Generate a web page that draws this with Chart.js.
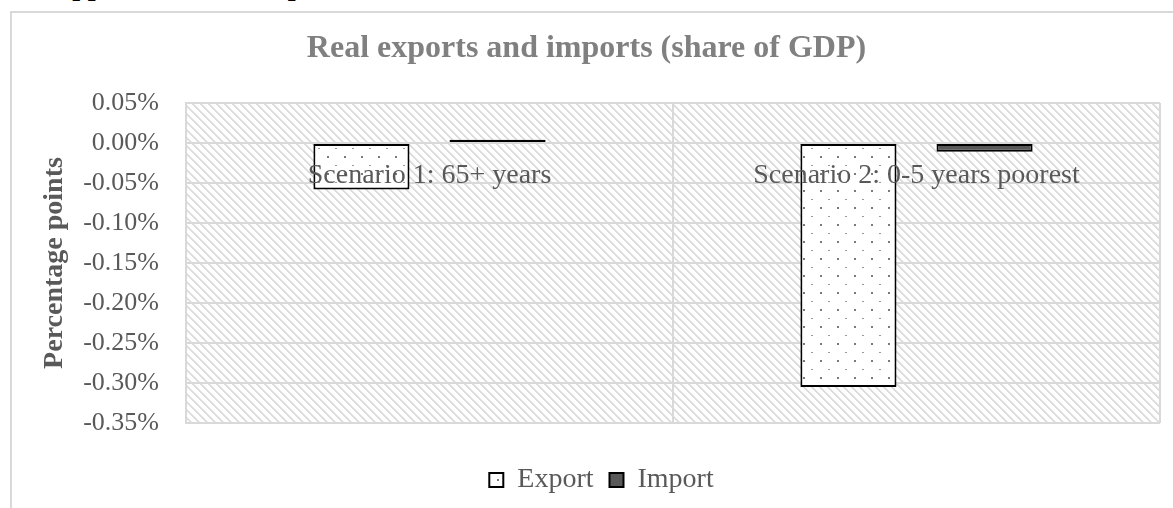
<!DOCTYPE html>
<html>
<head>
<meta charset="utf-8">
<script src="https://cdn.jsdelivr.net/npm/chart.js@4.4.1/dist/chart.umd.min.js"></script>
<style>
html,body{margin:0;padding:0;background:#fff;}
#wrap{position:relative;width:1173px;height:508px;overflow:hidden;background:#fff;}
#frame{position:absolute;left:10px;top:11px;width:1300px;height:600px;border-left:2px solid #d9d9d9;border-top:2px solid #d9d9d9;}
#head{position:absolute;left:0;top:0;width:1173px;height:4px;overflow:hidden;}
#head span{position:absolute;top:-28px;font:bold 28px "Liberation Serif";color:#000;line-height:1;white-space:nowrap;}
canvas{position:absolute;left:0;top:0;}
</style>
</head>
<body>
<div id="wrap">
  <div id="head"><span style="left:52px">Appendix</span><span style="left:255px">Exports</span></div>
  <div id="frame"></div>
  <canvas id="c" width="1173" height="508"></canvas>
</div>
<script>
// ---- data ----
const categories = ['Scenario 1: 65+ years', 'Scenario 2: 0-5 years poorest'];
const seriesNames = ['Export', 'Import'];
const exportValues = [-0.058, -0.305];
const importValues = [0.004, -0.011];
const yMin = -0.35;
const yMax = 0.05;
const yStep = 0.05;
const chartTitle = 'Real exports and imports (share of GDP)';
const yAxisTitle = 'Percentage points';

const F = '"Liberation Serif", "DejaVu Serif", serif';

// hatch pattern for plot area
function makeHatch() {
  const c = document.createElement('canvas');
  c.width = 8; c.height = 8;
  const g = c.getContext('2d');
  g.fillStyle = '#ffffff'; g.fillRect(0, 0, 8, 8);
  for (let y = 0; y < 8; y++) {
    for (let x = 0; x < 8; x++) {
      const d = ((x - y) % 8 + 8) % 8;
      if (d === 0 || d === 1) { g.fillStyle = '#dcdcdc'; g.fillRect(x, y, 1, 1); }
      else if (d === 2) { g.fillStyle = '#eeeeee'; g.fillRect(x, y, 1, 1); }
    }
  }
  return g.createPattern(c, 'repeat');
}
// dotted pattern for export bars
function makeDots() {
  const c = document.createElement('canvas');
  c.width = 17; c.height = 17;
  const g = c.getContext('2d');
  g.fillStyle = '#ffffff'; g.fillRect(0, 0, 17, 17);
  g.fillStyle = '#7a7a7a'; g.fillRect(4, 3, 2, 2);
  g.fillStyle = '#9a9a9a'; g.fillRect(12, 12, 2, 1);
  return g.createPattern(c, 'repeat');
}

const ctx = document.getElementById('c').getContext('2d');
const hatch = makeHatch();
const dots = makeDots();

const bgPlugin = {
  id: 'plotBg',
  afterLayout(chart) {
    // nudge legend to the right like the original
    const lg = chart.legend;
    if (lg) { lg.left += 15; lg.right += 15; }
  },
  beforeDraw(chart) {
    const a = chart.chartArea;
    const g = chart.ctx;
    g.save();
    g.fillStyle = hatch;
    g.fillRect(a.left, a.top, a.right - a.left, a.bottom - a.top);
    g.restore();
  }
};

new Chart(ctx, {
  type: 'bar',
  data: {
    labels: categories,
    datasets: [
      { label: seriesNames[0], data: exportValues, backgroundColor: dots, borderColor: '#000000', borderWidth: 2, borderSkipped: false, categoryPercentage: 0.559, barPercentage: 0.706 },
      { label: seriesNames[1], data: importValues, backgroundColor: '#595959', borderColor: '#000000', borderWidth: 2, borderSkipped: false, categoryPercentage: 0.559, barPercentage: 0.706 }
    ]
  },
  options: {
    responsive: false,
    animation: false,
    layout: { padding: { left: 0, right: 0, top: 0, bottom: 4 } },
    plugins: {
      title: {
        display: true, text: chartTitle, color: '#808080',
        font: { family: F, size: 32, weight: 'bold', lineHeight: 1.2 },
        padding: { top: 30, bottom: 34.6 }
      },
      legend: {
        position: 'bottom',
        title: { display: true, text: '', padding: 0, font: { size: 27, lineHeight: 1 } },
        labels: { boxWidth: 14, boxHeight: 14, padding: 16, color: '#595959', font: { family: F, size: 28 } }
      },
      tooltip: { enabled: false }
    },
    scales: {
      x: {
        position: { y: 0 },
        grid: { color: '#d9d9d9', lineWidth: 2, drawTicks: false, offset: true },
        border: { display: false },
        ticks: { z: 1, color: '#595959', font: { family: F, size: 28 }, padding: 16, maxRotation: 0, autoSkip: false }
      },
      y: {
        min: yMin, max: yMax,
        ticks: {
          stepSize: yStep, padding: 27, color: '#595959', font: { family: F, size: 26 },
          callback: v => (Math.abs(v) < 1e-9 ? 0 : v).toFixed(2) + '%'
        },
        grid: { color: '#d9d9d9', lineWidth: 2, drawTicks: false },
        border: { color: '#d9d9d9', width: 2 },
        title: { display: true, text: yAxisTitle, color: '#595959', font: { family: F, size: 28, weight: 'bold' }, padding: { top: 38, bottom: 0 } },
        afterFit(s) { s.width = 186; }
      },
      yRight: {
        position: 'right',
        min: yMin, max: yMax,
        grid: { display: false, drawTicks: false },
        border: { display: false },
        ticks: { display: false },
        afterFit(s) { s.width = 13; }
      }
    }
  },
  plugins: [bgPlugin]
});
</script>
</body>
</html>
